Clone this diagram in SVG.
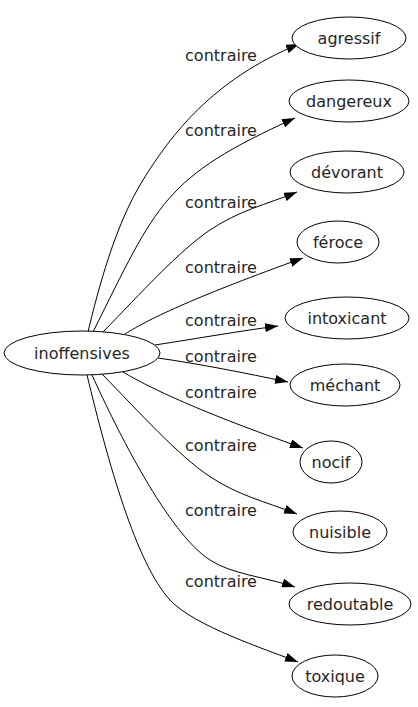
<svg xmlns="http://www.w3.org/2000/svg" width="418" height="707" viewBox="0 0 418 707">
<style>
.node ellipse{fill:#fff;stroke:#000;stroke-width:1}
.node text{font-family:"DejaVu Sans",sans-serif;font-size:16px;fill:#262626;text-anchor:middle}
.edge path{fill:none;stroke:#000;stroke-width:1}
.lbl{font-family:"DejaVu Sans",sans-serif;font-size:16px;fill:#262626;text-anchor:middle}
</style>
<defs>
<marker id="ah" markerWidth="13" markerHeight="9" refX="13" refY="4.5" orient="auto" markerUnits="userSpaceOnUse"><path d="M0,0 L13,4.5 L0,9 z" fill="#000"/></marker>
</defs>
<rect width="418" height="707" fill="#fff"/>
<g id="edges" class="edge">
<path marker-end="url(#ah)" d="M88,332 C98,290 115,225 143,180 S212,80 299,44"/>
<path marker-end="url(#ah)" d="M93,332 C158,202 163,178 295,118"/>
<path marker-end="url(#ah)" d="M103,332 C140,294 180,250 210,230 S265,205 297,192"/>
<path marker-end="url(#ah)" d="M125,334 C150,318 200,295 303,258"/>
<path marker-end="url(#ah)" d="M155,345 C200,338 240,331 278,326"/>
<path marker-end="url(#ah)" d="M158,358 C200,364 245,373 288,382"/>
<path marker-end="url(#ah)" d="M123,372 C150,388 200,412 303,448"/>
<path marker-end="url(#ah)" d="M102,374 C139,412 179,456 209,476 S264,501 297,514"/>
<path marker-end="url(#ah)" d="M92,375 C117,430 168,533 210,560 C231,574 265,577 295,587"/>
<path marker-end="url(#ah)" d="M87,375 C108,462 136,563 170,600 C194,626 265,649 298,662"/>
<text class="lbl" x="221" y="61">contraire</text>
<text class="lbl" x="221" y="136">contraire</text>
<text class="lbl" x="221" y="208">contraire</text>
<text class="lbl" x="221" y="273">contraire</text>
<text class="lbl" x="221" y="326">contraire</text>
<text class="lbl" x="221" y="362">contraire</text>
<text class="lbl" x="221" y="398">contraire</text>
<text class="lbl" x="221" y="451">contraire</text>
<text class="lbl" x="221" y="516">contraire</text>
<text class="lbl" x="221" y="587">contraire</text>
</g>
<g id="inoffensives" class="node"><ellipse cx="82" cy="353" rx="78" ry="22"/><text x="82" y="359">inoffensives</text></g>
<g id="agressif" class="node"><ellipse cx="349" cy="38" rx="57" ry="21"/><text x="349" y="44">agressif</text></g>
<g id="dangereux" class="node"><ellipse cx="349" cy="101" rx="60" ry="21"/><text x="349" y="107">dangereux</text></g>
<g id="devorant" class="node"><ellipse cx="347" cy="172" rx="57" ry="21"/><text x="347" y="178">dévorant</text></g>
<g id="feroce" class="node"><ellipse cx="338" cy="242" rx="41" ry="21"/><text x="338" y="248">féroce</text></g>
<g id="intoxicant" class="node"><ellipse cx="347" cy="318" rx="62" ry="21"/><text x="347" y="324">intoxicant</text></g>
<g id="mechant" class="node"><ellipse cx="345" cy="385" rx="55" ry="21"/><text x="345" y="391">méchant</text></g>
<g id="nocif" class="node"><ellipse cx="331" cy="462" rx="31" ry="21"/><text x="331" y="468">nocif</text></g>
<g id="nuisible" class="node"><ellipse cx="340" cy="532" rx="47" ry="21"/><text x="340" y="538">nuisible</text></g>
<g id="redoutable" class="node"><ellipse cx="350" cy="604" rx="61" ry="21"/><text x="350" y="610">redoutable</text></g>
<g id="toxique" class="node"><ellipse cx="335" cy="676" rx="43" ry="21"/><text x="335" y="682">toxique</text></g>
</svg>
